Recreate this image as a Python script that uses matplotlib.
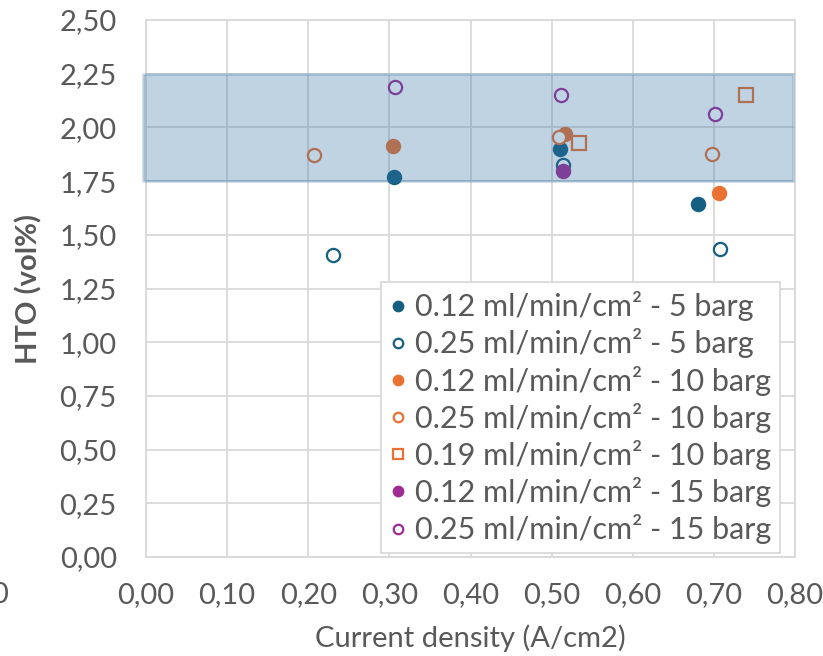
"""HTO vs current density scatter, with the 1.75-2.25 vol% band highlighted."""

import matplotlib
matplotlib.use("Agg")
import matplotlib.pyplot as plt
from matplotlib.patches import Rectangle
from matplotlib.ticker import FuncFormatter, MultipleLocator

plt.rcParams["font.family"] = ["Lato", "DejaVu Sans"]

TEXT = "#595959"
GRID = "#D9D9D9"
BLUE = "#156082"
ORANGE = "#E97132"
PURPLE = "#A02B93"

# Data (x = current density A/cm2, y = HTO vol%).
x_012_5 = [0.306, 0.510, 0.681]
y_012_5 = [1.770, 1.900, 1.643]
x_025_5 = [0.230, 0.514, 0.707]
y_025_5 = [1.407, 1.826, 1.433]
x_012_10 = [0.305, 0.516, 0.706]
y_012_10 = [1.914, 1.970, 1.693]
x_025_10 = [0.207, 0.509, 0.698]
y_025_10 = [1.871, 1.956, 1.877]
x_019_10 = [0.534, 0.739]
y_019_10 = [1.927, 2.153]
x_012_15 = [0.514]
y_012_15 = [1.798]
x_025_15 = [0.307, 0.512, 0.701]
y_025_15 = [2.186, 2.153, 2.062]

BAND = (1.75, 2.25)

SERIES = [
    (x_012_5, y_012_5, "o", BLUE, True, "0.12 ml/min/cm² - 5 barg"),
    (x_025_5, y_025_5, "o", BLUE, False, "0.25 ml/min/cm² - 5 barg"),
    (x_012_10, y_012_10, "o", ORANGE, True, "0.12 ml/min/cm² - 10 barg"),
    (x_025_10, y_025_10, "o", ORANGE, False, "0.25 ml/min/cm² - 10 barg"),
    (x_019_10, y_019_10, "s", ORANGE, False, "0.19 ml/min/cm² - 10 barg"),
    (x_012_15, y_012_15, "o", PURPLE, True, "0.12 ml/min/cm² - 15 barg"),
    (x_025_15, y_025_15, "o", PURPLE, False, "0.25 ml/min/cm² - 15 barg"),
]


def comma(v, _pos):
    return f"{v:.2f}".replace(".", ",")


fig = plt.figure(figsize=(8.23, 6.56), dpi=100)
ax = fig.add_axes([0.1774, 0.1509, 0.7886, 0.8186])

for xs, ys, marker, color, filled, label in SERIES:
    ax.plot(xs, ys, ls="none", marker=marker, ms=9.5 if marker == "o" else 10.5,
            mfc=color if filled else "white", mec=color, mew=1.6,
            label=label, zorder=3, clip_on=False)

# Highlighted band drawn on top of the markers, as in the original.
ax.add_patch(Rectangle((-0.004, BAND[0]), 0.802, BAND[1] - BAND[0],
                       facecolor=(45 / 255, 112 / 255, 165 / 255, 0.30),
                       edgecolor=(45 / 255, 112 / 255, 165 / 255, 0.20),
                       lw=2.2, zorder=4, clip_on=False))

ax.set_xlim(0, 0.80)
ax.set_ylim(0, 2.50)
ax.xaxis.set_major_locator(MultipleLocator(0.10))
ax.yaxis.set_major_locator(MultipleLocator(0.25))
ax.xaxis.set_major_formatter(FuncFormatter(comma))
ax.yaxis.set_major_formatter(FuncFormatter(comma))
ax.grid(True, color=GRID, lw=1.3, zorder=0)
ax.set_axisbelow(True)
for sp in ax.spines.values():
    sp.set_color(GRID)
    sp.set_linewidth(1.3)
ax.tick_params(length=0, labelsize=21, colors=TEXT)
ax.tick_params(axis="y", pad=21)
ax.tick_params(axis="x", pad=18)

ax.set_xlabel("Current density (A/cm2)", fontsize=21, color=TEXT, labelpad=12)
ax.set_ylabel("HTO (vol%)", fontsize=21, color=TEXT, fontweight="bold",
              labelpad=12)

leg = ax.legend(loc="upper left", bbox_to_anchor=(0.362, 0.512),
                fontsize=22, frameon=True, fancybox=False, framealpha=1,
                edgecolor=GRID, handlelength=0.5, handletextpad=0.3,
                labelspacing=0.235, borderpad=0.3, markerscale=0.72,
                borderaxespad=0)
leg.get_frame().set_linewidth(1.3)
leg.set_zorder(5)
for t in leg.get_texts():
    t.set_color(TEXT)

# Clipped remnant of a tick label at the very left edge of the original crop.
fig.text(0.0, 1 - 595 / 656, "0", fontsize=21, color=TEXT, ha="center",
         va="center")

fig.savefig("out.png", dpi=100)
